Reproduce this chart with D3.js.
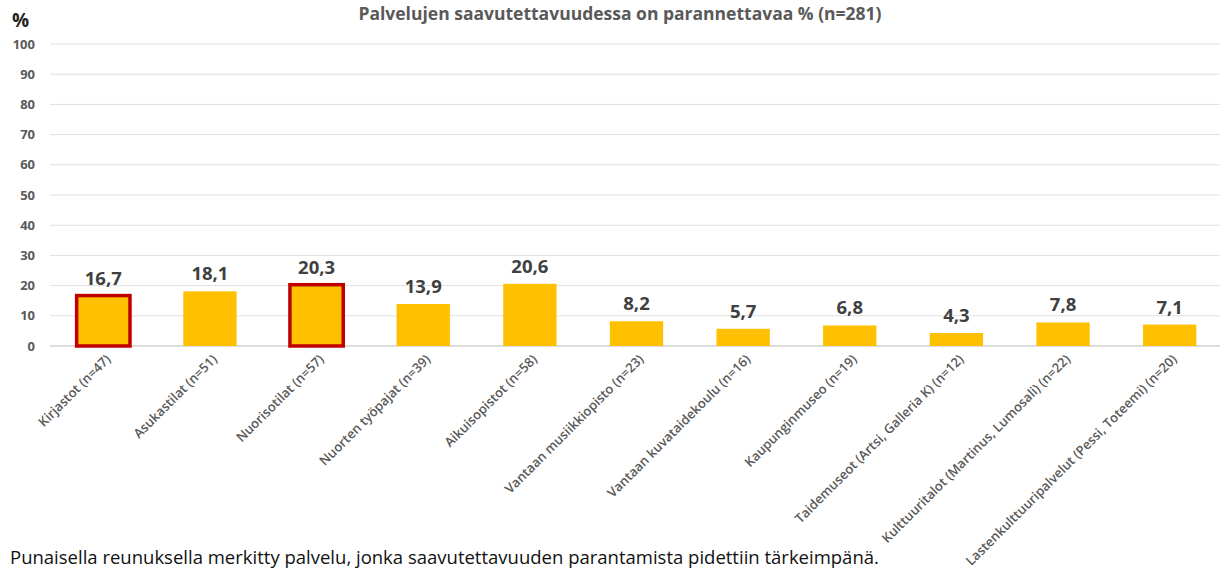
<!DOCTYPE html>
<html><head><meta charset="utf-8">
<script src="https://cdn.jsdelivr.net/npm/d3@7"></script>
<style>body{margin:0;background:#fff;font-family:"Open Sans",Calibri,sans-serif;}</style>
</head><body>
<svg id="c" width="1220" height="569"></svg>
<script>
const categories = ["Kirjastot (n=47)","Asukastilat (n=51)","Nuorisotilat (n=57)","Nuorten työpajat (n=39)","Aikuisopistot (n=58)","Vantaan musiikkiopisto (n=23)","Vantaan kuvataidekoulu (n=16)","Kaupunginmuseo (n=19)","Taidemuseot (Artsi, Galleria K) (n=12)","Kulttuuritalot (Martinus, Lumosali) (n=22)","Lastenkulttuuripalvelut (Pessi, Toteemi) (n=20)"];
const values = [16.7,18.1,20.3,13.9,20.6,8.2,5.7,6.8,4.3,7.8,7.1];
const highlighted = ["Kirjastot (n=47)","Nuorisotilat (n=57)"];
const yTicks = [0,10,20,30,40,50,60,70,80,90,100];
const title = "Palvelujen saavutettavuudessa on parannettavaa % (n=281)";
const note = "Punaisella reunuksella merkitty palvelu, jonka saavutettavuuden parantamista pidettiin tärkeimpänä.";

const svg = d3.select("#c");
const x = d3.scaleBand().domain(categories).range([50,1223]).paddingInner(0.5).paddingOuter(0.25);
const y = d3.scaleLinear().domain([0,100]).range([346,44]);

svg.append("g").selectAll("line").data(yTicks).join("line")
  .attr("x1",50).attr("x2",1220).attr("y1",d=>y(d)).attr("y2",d=>y(d))
  .attr("stroke",d=>d===0?"#d0d0d0":"#e0e0e0").attr("stroke-width",d=>d===0?1.5:1);

const yAxis = d3.axisLeft(y).tickValues(yTicks).tickSize(0).tickPadding(0);
const ga = svg.append("g").attr("transform","translate(35,0)").call(yAxis);
ga.select(".domain").remove();
ga.selectAll("text").attr("font-family","Open Sans, sans-serif").attr("font-size",13).attr("font-weight","bold").attr("fill","#595959");

svg.append("text").attr("x",12).attr("y",27).text("%").attr("font-size",19).attr("font-weight","bold").attr("fill","#222");

svg.append("text").attr("x",620).attr("y",20).attr("text-anchor","middle").text(title)
  .attr("font-size",17.5).attr("font-weight","bold").attr("fill","#595959");

svg.append("g").selectAll("rect").data(categories).join("rect")
  .attr("x",d=>x(d)).attr("width",x.bandwidth())
  .attr("y",(d,i)=>y(values[i])).attr("height",(d,i)=>y(0)-y(values[i]))
  .attr("fill","#FFC000")
  .attr("stroke",d=>highlighted.includes(d)?"#C00000":"none")
  .attr("stroke-width",3.5);

svg.append("g").selectAll("text").data(categories).join("text")
  .attr("x",d=>x(d)+x.bandwidth()/2).attr("y",(d,i)=>y(values[i])-11)
  .attr("text-anchor","middle").text((d,i)=>String(values[i]).replace(".",","))
  .attr("font-size",18.5).attr("font-weight","bold").attr("fill","#404040");

svg.append("g").selectAll("text").data(categories).join("text")
  .attr("transform",d=>`translate(${x(d)+x.bandwidth()/2+8},${360}) rotate(-45)`)
  .attr("text-anchor","end").text(d=>d)
  .attr("font-size",13).attr("font-weight",600).attr("fill","#595959");

svg.append("text").attr("x",10).attr("y",564).text(note).attr("font-size",18.5).attr("fill","#111");
</script>
</body></html>
